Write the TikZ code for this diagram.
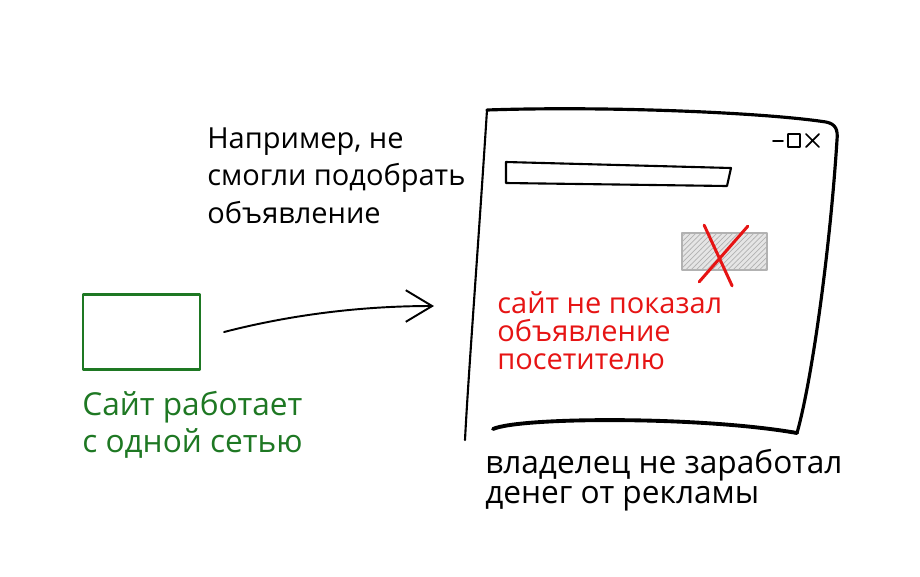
\documentclass[tikz,border=0pt]{standalone}
\usepackage{fontspec}
\setmainfont{Open Sans}
\usetikzlibrary{positioning,arrows.meta,patterns}
\definecolor{sitegreen}{RGB}{30,120,35}
\definecolor{adred}{RGB}{230,20,20}

\begin{document}
\begin{tikzpicture}[x=0.02cm,y=-0.02cm,line cap=round,line join=round,
      note/.style={align=left,inner sep=0pt,font=\fontsize{16.5}{21.5}\selectfont},
      greenbox/.style={draw=sitegreen,line width=1.2pt,minimum width=2.34cm,minimum height=1.5cm},
      adbox/.style={draw=black!30,line width=1pt,preaction={fill=black!10},pattern=north east lines,pattern color=black!30,minimum width=1.7cm,minimum height=0.74cm},
      cross/.style={draw=adred,line width=1.7pt},
      arrow/.style={line width=1.1pt,-{Straight Barb[length=15pt,width=18pt]}}]
  \useasboundingbox (0,0) rectangle (920,576);
  % site with one network
  \node[greenbox] (site) at (141.5,332) {};
  \node[note,text=sitegreen,font=\fontsize{18}{21.5}\selectfont] (sitetext) [below right=0.4cm and 0cm of site.south west] {Сайт работает\\с одной сетью};
  \node[note,anchor=north west] (reason) at (207,127) {Например, не\\смогли подобрать\\объявление};
  \coordinate (head) at (434,306);
  \draw[arrow] ([xshift=0.46cm]site.east) .. controls (290,315) and (360,306) .. (head);
  % browser window
  \draw[line width=1.2pt] (487,110) .. controls (478,250) and (468,380) .. (465,440);
  \draw[line width=1.8pt] (487,110) .. controls (600,106) and (760,112) .. (826,122)
    .. controls (836,124) and (838,130) .. (837,140) .. controls (830,250) and (812,380) .. (797,433);
  \draw[line width=2.2pt] (493,429) .. controls (520,417) and (700,416) .. (797,433);
  \draw[line width=1pt] (773,141) -- (783,141) (788,134) rectangle (800,147)
    (806,134) -- (819,147) (819,134) -- (806,147);
  \draw[line width=1.2pt] (506,162) -- (731,168) -- (727,186) -- (506,183) -- cycle;
  \node[adbox] (ad) at (724.5,251.5) {};
  \draw[cross] ([shift={(18,11)}]ad.south west) -- ([shift={(-20,-6)}]ad.north east);
  \draw[cross] ([shift={(23,-7)}]ad.north west) -- ([shift={(51,15)}]ad.south west);
  \node[note,text=adred,anchor=north west,font=\fontsize{16.5}{16}\selectfont] (nothing) at (497,291) {сайт не показал\\объявление\\посетителю};
  \node[note,anchor=north west,font=\fontsize{18}{17}\selectfont] (owner) at (485,449) {владелец не заработал\\денег от рекламы};
\end{tikzpicture}
\end{document}
